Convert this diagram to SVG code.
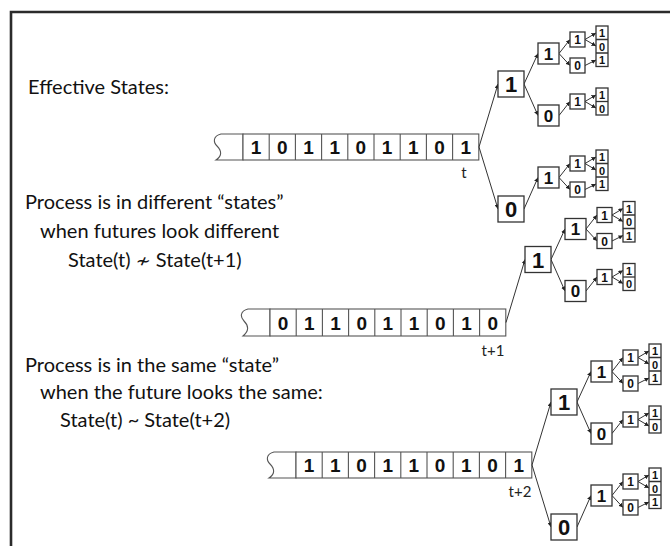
<svg xmlns="http://www.w3.org/2000/svg" width="670" height="546" viewBox="0 0 670 546">
<style>
.frame{fill:none;stroke:#2b2b2b;stroke-width:2.6}
.tape{fill:#fff;stroke:#555;stroke-width:1.1}
.box{fill:#fff;stroke:#333;stroke-width:1.3}
.d{font-family:"Liberation Sans",Arial,sans-serif;font-weight:bold;fill:#111;text-anchor:middle}
.td{font-size:19px}
.d1{font-size:22px}
.d2{font-size:17px}
.d3{font-size:12px}
.d4{font-size:11px}
.lab{font-family:Lato,"Open Sans",sans-serif;fill:#111;font-size:20px}
.sym{font-family:"DejaVu Sans",sans-serif;font-size:18px}
.tl{font-family:Lato,"Open Sans",sans-serif;fill:#222;font-size:15px;text-anchor:middle}
.edge{stroke:#333;stroke-width:1;fill:none;marker-end:url(#ah)}
</style>
<defs>
<marker id="ah" viewBox="0 0 10 10" refX="10" refY="5" markerWidth="4.5" markerHeight="4.5" markerUnits="userSpaceOnUse" orient="auto">
<path d="M0,0 L10,5 L0,10 z" fill="#222"/>
</marker>
</defs>
<rect width="670" height="546" fill="#fff"/>
<path class="frame" d="M11,547 V12 H671"/>

<g id="texts">
<text class="lab" x="28" y="94">Effective States:</text>
<text class="lab" x="25" y="209">Process is in different “states”</text>
<text class="lab" x="40" y="238">when futures look different</text>
<text class="lab" x="68" y="267">State(t) <tspan class="sym">≁</tspan> State(t+1)</text>
<text class="lab" x="25" y="372">Process is in the same “state”</text>
<text class="lab" x="40" y="399">when the future looks the same:</text>
<text class="lab" x="60" y="427">State(t) ~ State(t+2)</text>
</g>

<!-- Tape 1 -->
<g id="tape1">
<path class="tape" d="M243,134 H221 C213,136 213,142 217,146 C222,151 222,156 216,160 H243 Z"/>
<rect class="tape" x="243" y="134" width="235.8" height="26"/>
<path class="tape" d="M269.2,134V160M295.4,134V160M321.6,134V160M347.8,134V160M374,134V160M400.2,134V160M426.4,134V160M452.6,134V160"/>
<g class="d td">
<text x="256.1" y="154">1</text><text x="282.3" y="154">0</text><text x="308.5" y="154">1</text><text x="334.7" y="154">1</text><text x="360.9" y="154">0</text><text x="387.1" y="154">1</text><text x="413.3" y="154">1</text><text x="439.5" y="154">0</text><text x="465.7" y="154">1</text>
</g>
<text class="tl" x="464" y="178">t</text>
</g>

<!-- Tape 2 -->
<g id="tape2">
<path class="tape" d="M270,309 H248 C240,311 240,317 244,321 C249,326 249,331 243,336 H270 Z"/>
<rect class="tape" x="270" y="309" width="235.8" height="27"/>
<path class="tape" d="M296.2,309V336M322.4,309V336M348.6,309V336M374.8,309V336M401,309V336M427.2,309V336M453.4,309V336M479.6,309V336"/>
<g class="d td">
<text x="283.1" y="329.5">0</text><text x="309.3" y="329.5">1</text><text x="335.5" y="329.5">1</text><text x="361.7" y="329.5">0</text><text x="387.9" y="329.5">1</text><text x="414.1" y="329.5">1</text><text x="440.3" y="329.5">0</text><text x="466.5" y="329.5">1</text><text x="492.7" y="329.5">0</text>
</g>
<text class="tl" x="493" y="356">t+1</text>
</g>

<!-- Tape 3 -->
<g id="tape3">
<path class="tape" d="M296,452 H274 C266,454 266,460 270,464 C275,469 275,474 269,478 H296 Z"/>
<rect class="tape" x="296" y="452" width="235.8" height="26"/>
<path class="tape" d="M322.2,452V478M348.4,452V478M374.6,452V478M400.8,452V478M427,452V478M453.2,452V478M479.4,452V478M505.6,452V478"/>
<g class="d td">
<text x="309.1" y="472">1</text><text x="335.3" y="472">1</text><text x="361.5" y="472">0</text><text x="387.7" y="472">1</text><text x="413.9" y="472">1</text><text x="440.1" y="472">0</text><text x="466.3" y="472">1</text><text x="492.5" y="472">0</text><text x="518.7" y="472">1</text>
</g>
<text class="tl" x="520" y="497">t+2</text>
</g>

<!-- Connectors -->
<g id="connectors">
<g transform="translate(479,147)">
<path class="edge" d="M0,0 L19,-63"/><path class="edge" d="M0,0 L19,62"/>
<path class="edge" d="M45,-63 L59,-93.5"/><path class="edge" d="M45,-63 L59,-31.5"/><path class="edge" d="M45,62 L59,30.5"/>
<path class="edge" d="M80,-93.5 L91,-107.5"/><path class="edge" d="M80,-93.5 L91,-81.5"/><path class="edge" d="M80,-31.5 L91,-45.5"/>
<path class="edge" d="M80,30.5 L91,16.5"/><path class="edge" d="M80,30.5 L91,42.5"/>
<path class="edge" d="M106,-107.5 L117,-114"/><path class="edge" d="M106,-107.5 L117,-101"/><path class="edge" d="M106,-81.5 L117,-87"/>
<path class="edge" d="M106,-45.5 L117,-52"/><path class="edge" d="M106,-45.5 L117,-39"/>
<path class="edge" d="M106,16.5 L117,10"/><path class="edge" d="M106,16.5 L117,23"/><path class="edge" d="M106,42.5 L117,37"/>
</g>
<g transform="translate(506,322.5)">
<path class="edge" d="M0,0 L19,-63"/>
<path class="edge" d="M45,-63 L59,-93.5"/><path class="edge" d="M45,-63 L59,-31.5"/>
<path class="edge" d="M80,-93.5 L91,-107.5"/><path class="edge" d="M80,-93.5 L91,-81.5"/><path class="edge" d="M80,-31.5 L91,-45.5"/>
<path class="edge" d="M106,-107.5 L117,-114"/><path class="edge" d="M106,-107.5 L117,-101"/><path class="edge" d="M106,-81.5 L117,-87"/>
<path class="edge" d="M106,-45.5 L117,-52"/><path class="edge" d="M106,-45.5 L117,-39"/>
</g>
<g transform="translate(532,465)">
<path class="edge" d="M0,0 L19,-63"/><path class="edge" d="M0,0 L19,62"/>
<path class="edge" d="M45,-63 L59,-93.5"/><path class="edge" d="M45,-63 L59,-31.5"/><path class="edge" d="M45,62 L59,30.5"/>
<path class="edge" d="M80,-93.5 L91,-107.5"/><path class="edge" d="M80,-93.5 L91,-81.5"/><path class="edge" d="M80,-31.5 L91,-45.5"/>
<path class="edge" d="M80,30.5 L91,16.5"/><path class="edge" d="M80,30.5 L91,42.5"/>
<path class="edge" d="M106,-107.5 L117,-114"/><path class="edge" d="M106,-107.5 L117,-101"/><path class="edge" d="M106,-81.5 L117,-87"/>
<path class="edge" d="M106,-45.5 L117,-52"/><path class="edge" d="M106,-45.5 L117,-39"/>
<path class="edge" d="M106,16.5 L117,10"/><path class="edge" d="M106,16.5 L117,23"/><path class="edge" d="M106,42.5 L117,37"/>
</g>
</g>

<!-- Tree 1 nodes -->
<g id="tree1" transform="translate(479,147)">
<g id="t1-A"><rect class="box" x="19" y="-76" width="26" height="26"/><text class="d d1" x="32" y="-55">1</text></g>
<g id="t1-B"><rect class="box" x="19" y="49" width="26" height="26"/><text class="d d1" x="32" y="70">0</text></g>
<g id="t1-A1"><rect class="box" x="59" y="-104" width="21" height="21"/><text class="d d2" x="69.5" y="-87.5">1</text></g>
<g id="t1-A0"><rect class="box" x="59" y="-42" width="21" height="21"/><text class="d d2" x="69.5" y="-25.5">0</text></g>
<g id="t1-B1"><rect class="box" x="59" y="20" width="21" height="21"/><text class="d d2" x="69.5" y="36.5">1</text></g>
<g id="t1-A11"><rect class="box" x="91" y="-115" width="15" height="15"/><text class="d d3" x="98.5" y="-103">1</text></g>
<g id="t1-A10"><rect class="box" x="91" y="-89" width="15" height="15"/><text class="d d3" x="98.5" y="-77">0</text></g>
<g id="t1-A01"><rect class="box" x="91" y="-53" width="15" height="15"/><text class="d d3" x="98.5" y="-41">1</text></g>
<g id="t1-B11"><rect class="box" x="91" y="9" width="15" height="15"/><text class="d d3" x="98.5" y="21">1</text></g>
<g id="t1-B10"><rect class="box" x="91" y="35" width="15" height="15"/><text class="d d3" x="98.5" y="47">0</text></g>
<g id="t1-SA1"><rect class="box" x="117" y="-121" width="12" height="40.5"/><path class="box" d="M117,-107.5H129M117,-94H129"/><text class="d d4" x="123" y="-110">1</text><text class="d d4" x="123" y="-96.5">0</text><text class="d d4" x="123" y="-83">1</text></g>
<g id="t1-SA0"><rect class="box" x="117" y="-59" width="12" height="27"/><path class="box" d="M117,-45.5H129"/><text class="d d4" x="123" y="-48">1</text><text class="d d4" x="123" y="-34.5">0</text></g>
<g id="t1-SB1"><rect class="box" x="117" y="3" width="12" height="40.5"/><path class="box" d="M117,16.5H129M117,30H129"/><text class="d d4" x="123" y="14">1</text><text class="d d4" x="123" y="27.5">0</text><text class="d d4" x="123" y="41">1</text></g>
</g>

<!-- Tree 2 nodes -->
<g id="tree2" transform="translate(506,322.5)">
<g id="t2-A"><rect class="box" x="19" y="-76" width="26" height="26"/><text class="d d1" x="32" y="-55">1</text></g>
<g id="t2-A1"><rect class="box" x="59" y="-104" width="21" height="21"/><text class="d d2" x="69.5" y="-87.5">1</text></g>
<g id="t2-A0"><rect class="box" x="59" y="-42" width="21" height="21"/><text class="d d2" x="69.5" y="-25.5">0</text></g>
<g id="t2-A11"><rect class="box" x="91" y="-115" width="15" height="15"/><text class="d d3" x="98.5" y="-103">1</text></g>
<g id="t2-A10"><rect class="box" x="91" y="-89" width="15" height="15"/><text class="d d3" x="98.5" y="-77">0</text></g>
<g id="t2-A01"><rect class="box" x="91" y="-53" width="15" height="15"/><text class="d d3" x="98.5" y="-41">1</text></g>
<g id="t2-SA1"><rect class="box" x="117" y="-121" width="12" height="40.5"/><path class="box" d="M117,-107.5H129M117,-94H129"/><text class="d d4" x="123" y="-110">1</text><text class="d d4" x="123" y="-96.5">0</text><text class="d d4" x="123" y="-83">1</text></g>
<g id="t2-SA0"><rect class="box" x="117" y="-59" width="12" height="27"/><path class="box" d="M117,-45.5H129"/><text class="d d4" x="123" y="-48">1</text><text class="d d4" x="123" y="-34.5">0</text></g>
</g>

<!-- Tree 3 nodes -->
<g id="tree3" transform="translate(532,465)">
<g id="t3-A"><rect class="box" x="19" y="-76" width="26" height="26"/><text class="d d1" x="32" y="-55">1</text></g>
<g id="t3-B"><rect class="box" x="19" y="49" width="26" height="26"/><text class="d d1" x="32" y="70">0</text></g>
<g id="t3-A1"><rect class="box" x="59" y="-104" width="21" height="21"/><text class="d d2" x="69.5" y="-87.5">1</text></g>
<g id="t3-A0"><rect class="box" x="59" y="-42" width="21" height="21"/><text class="d d2" x="69.5" y="-25.5">0</text></g>
<g id="t3-B1"><rect class="box" x="59" y="20" width="21" height="21"/><text class="d d2" x="69.5" y="36.5">1</text></g>
<g id="t3-A11"><rect class="box" x="91" y="-115" width="15" height="15"/><text class="d d3" x="98.5" y="-103">1</text></g>
<g id="t3-A10"><rect class="box" x="91" y="-89" width="15" height="15"/><text class="d d3" x="98.5" y="-77">0</text></g>
<g id="t3-A01"><rect class="box" x="91" y="-53" width="15" height="15"/><text class="d d3" x="98.5" y="-41">1</text></g>
<g id="t3-B11"><rect class="box" x="91" y="9" width="15" height="15"/><text class="d d3" x="98.5" y="21">1</text></g>
<g id="t3-B10"><rect class="box" x="91" y="35" width="15" height="15"/><text class="d d3" x="98.5" y="47">0</text></g>
<g id="t3-SA1"><rect class="box" x="117" y="-121" width="12" height="40.5"/><path class="box" d="M117,-107.5H129M117,-94H129"/><text class="d d4" x="123" y="-110">1</text><text class="d d4" x="123" y="-96.5">0</text><text class="d d4" x="123" y="-83">1</text></g>
<g id="t3-SA0"><rect class="box" x="117" y="-59" width="12" height="27"/><path class="box" d="M117,-45.5H129"/><text class="d d4" x="123" y="-48">1</text><text class="d d4" x="123" y="-34.5">0</text></g>
<g id="t3-SB1"><rect class="box" x="117" y="3" width="12" height="40.5"/><path class="box" d="M117,16.5H129M117,30H129"/><text class="d d4" x="123" y="14">1</text><text class="d d4" x="123" y="27.5">0</text><text class="d d4" x="123" y="41">1</text></g>
</g>
</svg>
